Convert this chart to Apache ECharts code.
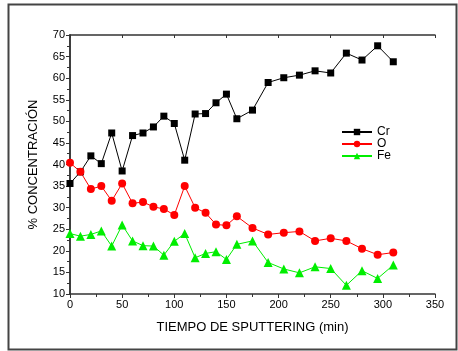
<!DOCTYPE html>
<html>
<head>
<meta charset="utf-8">
<script src="https://cdn.jsdelivr.net/npm/echarts@6/dist/echarts.min.js"></script>
<style>
  html, body { margin: 0; padding: 0; background: #fff; }
  #chart { width: 458px; height: 351px; }
</style>
</head>
<body>
<div id="chart"></div>
<script>
const times = [0, 10, 20, 30, 40, 50, 60, 70, 80, 90, 100, 110, 120, 130, 140, 150, 160, 175, 190, 205, 220, 235, 250, 265, 280, 295, 310];
const cr = [35.6, 38.3, 42.0, 40.2, 47.3, 38.5, 46.7, 47.3, 48.7, 51.2, 49.5, 41.0, 51.7, 51.8, 54.3, 56.3, 50.6, 52.6, 59.0, 60.1, 60.7, 61.7, 61.2, 65.8, 64.2, 67.5, 63.8];
const oxy = [40.4, 38.3, 34.3, 35.0, 31.6, 35.6, 31.0, 31.3, 30.2, 29.7, 28.3, 35.0, 30.0, 28.8, 26.1, 25.9, 28.0, 25.3, 23.8, 24.2, 24.5, 22.3, 22.9, 22.3, 20.5, 19.1, 19.6];
const fe = [24.0, 23.4, 23.8, 24.6, 21.1, 26.0, 22.3, 21.2, 21.1, 19.0, 22.2, 24.0, 18.4, 19.4, 19.8, 18.0, 21.5, 22.3, 17.3, 15.8, 14.9, 16.3, 15.9, 12.0, 15.4, 13.6, 16.7];

const pair = ys => times.map((t, i) => [t, ys[i]]);
const font = 'Liberation Sans, Arial, sans-serif';
const axisColor = '#333';

const chart = echarts.init(document.getElementById('chart'));

const baseX = {
  type: 'value', min: 0, max: 350, interval: 50,
  axisLine: { show: true, lineStyle: { color: axisColor, width: 1.5 } },
  splitLine: { show: false },
  minorTick: { show: true, splitNumber: 2, length: 3, lineStyle: { color: axisColor } },
  axisTick: { show: true, length: 4, lineStyle: { color: axisColor } }
};
const baseY = {
  type: 'value', min: 10, max: 70, interval: 5,
  axisLine: { show: true, lineStyle: { color: axisColor, width: 1.5 } },
  splitLine: { show: false },
  minorTick: { show: true, splitNumber: 2, length: 3, lineStyle: { color: axisColor } },
  axisTick: { show: true, length: 4, lineStyle: { color: axisColor } }
};

chart.setOption({
  animation: false,
  backgroundColor: '#fff',
  textStyle: { fontFamily: font },
  graphic: [{
    type: 'rect',
    shape: { x: 8.5, y: 4.5, width: 448, height: 345 },
    style: { fill: null, stroke: '#444', lineWidth: 2 },
    silent: true
  }],
  grid: { left: 70, top: 35, width: 365, height: 259 },
  legend: {
    orient: 'vertical',
    left: 336, top: 121,
    itemWidth: 30, itemHeight: 8, itemGap: 0,
    textStyle: { fontFamily: font, fontSize: 12, color: '#000', lineHeight: 11, padding: 0 },
    data: ['Cr', 'O', 'Fe']
  },
  xAxis: [
    Object.assign({}, baseX, {
      position: 'bottom',
      name: 'TIEMPO DE SPUTTERING (min)',
      nameLocation: 'middle', nameGap: 27,
      nameTextStyle: { fontFamily: font, fontSize: 13, color: '#000' },
      axisLabel: { fontFamily: font, fontSize: 11, color: '#000', margin: 5 }
    }),
    Object.assign({}, baseX, {
      position: 'top',
      axisTick: { show: true, inside: true, length: 3, lineStyle: { color: axisColor } },
      minorTick: { show: false },
      axisLabel: { show: false }
    })
  ],
  yAxis: [
    Object.assign({}, baseY, {
      position: 'left',
      name: '% CONCENTRACIÓN',
      nameLocation: 'middle', nameGap: 30,
      nameTextStyle: { fontFamily: font, fontSize: 13, color: '#000' },
      axisLabel: { fontFamily: font, fontSize: 11, color: '#000', margin: 5 }
    }),
    Object.assign({}, baseY, {
      position: 'right',
      axisTick: { show: true, inside: true, length: 3, lineStyle: { color: axisColor } },
      minorTick: { show: false },
      axisLabel: { show: false }
    })
  ],
  series: [
    {
      name: 'Cr', type: 'line', data: pair(cr),
      symbol: 'rect', symbolSize: 7,
      lineStyle: { color: '#000', width: 1 },
      itemStyle: { color: '#000' }
    },
    {
      name: 'O', type: 'line', data: pair(oxy),
      symbol: 'circle', symbolSize: 8,
      lineStyle: { color: '#ff0000', width: 1 },
      itemStyle: { color: '#ff0000' }
    },
    {
      name: 'Fe', type: 'line', data: pair(fe),
      symbol: 'triangle', symbolSize: 9,
      lineStyle: { color: '#00ee00', width: 1 },
      itemStyle: { color: '#00ee00' }
    }
  ]
});
</script>
</body>
</html>
